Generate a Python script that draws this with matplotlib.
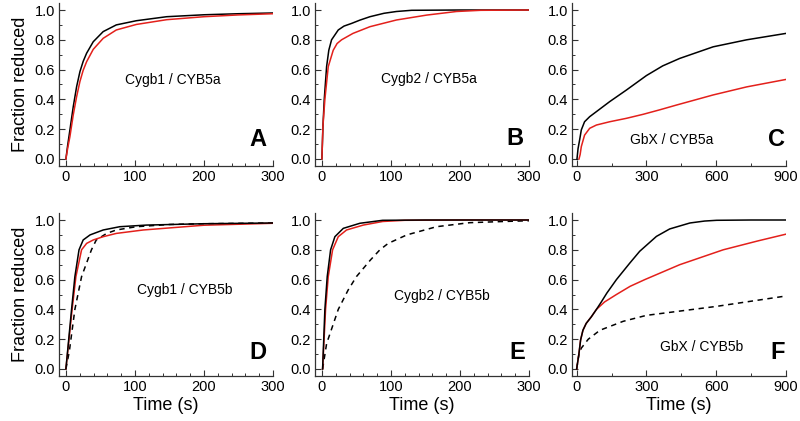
import matplotlib.pyplot as plt
from matplotlib.ticker import MultipleLocator

plt.rcParams['font.family'] = ['Liberation Sans', 'DejaVu Sans']

# --- panel A: Cygb1 / CYB5a ---
a_t = [0, 2.5, 5.8, 10.6, 15.5, 20.3, 25, 30, 39.6, 54, 73, 102, 146, 200, 250, 300]
a_black = [0, 0.09, 0.195, 0.35, 0.485, 0.586, 0.655, 0.71, 0.787, 0.855, 0.90, 0.928, 0.955, 0.968, 0.975, 0.98]
a_red = [0, 0.07, 0.15, 0.295, 0.418, 0.52, 0.595, 0.653, 0.736, 0.81, 0.866, 0.903, 0.935, 0.955, 0.967, 0.975]

# --- panel B: Cygb2 / CYB5a ---
b_t_black = [0, 1.5, 3.4, 6.8, 10, 14, 23.7, 32, 43, 55, 69.6, 90, 108, 130, 200, 300]
b_black = [0, 0.22, 0.40, 0.62, 0.73, 0.80, 0.866, 0.892, 0.91, 0.932, 0.955, 0.978, 0.99, 0.998, 1.0, 1.0]
b_t_red = [0, 1.5, 4.3, 9.2, 16.4, 22, 28.5, 45, 69.6, 108, 152, 195, 230, 300]
b_red = [0, 0.22, 0.40, 0.62, 0.73, 0.775, 0.80, 0.843, 0.888, 0.933, 0.966, 0.99, 0.998, 1.0]

# --- panel C: GbX / CYB5a ---
c_t_black = [1.4, 6, 13, 20, 34, 56, 85, 142, 214, 300, 370, 443, 587, 731, 900]
c_black = [0, 0.07, 0.13, 0.195, 0.25, 0.284, 0.318, 0.385, 0.463, 0.56, 0.625, 0.675, 0.753, 0.80, 0.843]
c_t_red = [10, 15, 20, 34, 56, 85, 142, 214, 286, 357, 429, 587, 731, 900]
c_red = [0, 0.03, 0.083, 0.16, 0.206, 0.228, 0.25, 0.273, 0.30, 0.33, 0.362, 0.43, 0.484, 0.534]

# --- panel D: Cygb1 / CYB5b ---
d_t_black = [0, 8.2, 13, 19, 25, 35, 54, 78, 117, 200, 300]
d_black = [0, 0.40, 0.62, 0.80, 0.866, 0.90, 0.933, 0.955, 0.966, 0.975, 0.98]
d_t_red = [0, 9, 14.5, 22.7, 30, 39.6, 54, 73, 112, 200, 300]
d_red = [0, 0.40, 0.62, 0.80, 0.843, 0.866, 0.888, 0.91, 0.933, 0.965, 0.978]
d_t_dash = [0, 5, 13, 22.7, 37, 44, 59, 73, 102, 150, 200, 300]
d_dash = [0, 0.12, 0.40, 0.62, 0.80, 0.866, 0.91, 0.933, 0.955, 0.97, 0.975, 0.98]

# --- panel E: Cygb2 / CYB5b ---
e_t_black = [1, 4.3, 7.7, 12.6, 18.8, 31, 55, 88, 150, 300]
e_black = [0, 0.40, 0.62, 0.80, 0.888, 0.944, 0.978, 0.998, 1.0, 1.0]
e_t_red = [1, 5.3, 9.2, 15.5, 23.7, 35.7, 60, 88, 120, 200, 300]
e_red = [0, 0.40, 0.62, 0.80, 0.888, 0.933, 0.966, 0.99, 0.998, 1.0, 1.0]
e_t_dash = [1, 6.8, 23.7, 38, 50, 70, 84, 96, 123, 166, 214, 263, 300]
e_dash = [0, 0.17, 0.40, 0.53, 0.62, 0.73, 0.80, 0.843, 0.90, 0.955, 0.982, 0.99, 0.995]

# --- panel F: GbX / CYB5b ---
f_t_black = [0, 10, 17, 27, 41, 63, 85, 106, 130, 171, 228, 271, 343, 400, 487, 550, 602, 750, 900]
f_black = [0, 0.105, 0.195, 0.26, 0.306, 0.35, 0.40, 0.45, 0.51, 0.60, 0.71, 0.79, 0.89, 0.94, 0.98, 0.993, 0.998, 1.0, 1.0]
f_t_red = [0, 10, 17, 27, 41, 63, 85, 120, 171, 230, 293, 443, 630, 780, 900]
f_red = [0, 0.105, 0.195, 0.26, 0.306, 0.35, 0.40, 0.45, 0.50, 0.555, 0.60, 0.70, 0.80, 0.86, 0.905]
f_t_dash = [0, 10, 20, 50, 100, 200, 300, 450, 600, 750, 900]
f_dash = [0, 0.10, 0.14, 0.20, 0.26, 0.32, 0.36, 0.39, 0.42, 0.455, 0.49]

panel_labels = ['Cygb1 / CYB5a', 'Cygb2 / CYB5a', 'GbX / CYB5a',
                'Cygb1 / CYB5b', 'Cygb2 / CYB5b', 'GbX / CYB5b']
panel_letters = ['A', 'B', 'C', 'D', 'E', 'F']

RED = '#e3201b'

panels = [
    [(a_t, a_black, 'k', '-'), (a_t, a_red, RED, '-')],
    [(b_t_black, b_black, 'k', '-'), (b_t_red, b_red, RED, '-')],
    [(c_t_black, c_black, 'k', '-'), (c_t_red, c_red, RED, '-')],
    [(d_t_dash, d_dash, 'k', '--'), (d_t_red, d_red, RED, '-'), (d_t_black, d_black, 'k', '-')],
    [(e_t_dash, e_dash, 'k', '--'), (e_t_red, e_red, RED, '-'), (e_t_black, e_black, 'k', '-')],
    [(f_t_dash, f_dash, 'k', '--'), (f_t_red, f_red, RED, '-'), (f_t_black, f_black, 'k', '-')],
]

# label positions in data coords (text, letter)
text_pos = [(155, 0.53), (155, 0.54), (409, 0.13), (172, 0.53), (174, 0.49), (538, 0.15)]
letter_pos = [(278, 0.13), (280, 0.14), (861, 0.13), (278, 0.11), (283, 0.11), (866, 0.11)]

fig = plt.figure(figsize=(8, 4.21), dpi=100)
lefts = [59, 315, 572]
rights = [273, 529, 786]
tops = [3, 213]
bottoms = [166, 376]
W, H = 800, 421

for i in range(6):
    r, c = divmod(i, 3)
    ax = fig.add_axes([lefts[c] / W, 1 - bottoms[r] / H,
                       (rights[c] - lefts[c]) / W, (bottoms[r] - tops[r]) / H])
    for t, y, col, ls in panels[i]:
        if ls == '--':
            ax.plot(t, y, color=col, lw=1.1, linestyle=(0, (3.5, 3)))
        else:
            ax.plot(t, y, color=col, lw=1.1)
    if c == 2:
        ax.set_xlim(-20, 900)
        ax.xaxis.set_major_locator(MultipleLocator(300))
        ax.xaxis.set_minor_locator(MultipleLocator(150))
    else:
        ax.set_xlim(-10, 300)
        ax.xaxis.set_major_locator(MultipleLocator(100))
        ax.xaxis.set_minor_locator(MultipleLocator(20))
    ax.set_ylim(-0.047, 1.047)
    ax.yaxis.set_major_locator(MultipleLocator(0.2))
    ax.yaxis.set_minor_locator(MultipleLocator(0.1))
    ax.spines['top'].set_visible(False)
    ax.spines['right'].set_visible(False)
    for s in ['left', 'bottom']:
        ax.spines[s].set_linewidth(0.9)
        ax.spines[s].set_color('#333333')
    ax.tick_params(which='major', direction='in', length=4, width=0.8,
                   labelsize=10.5, pad=3, colors='#333333', labelcolor='black')
    ax.tick_params(which='minor', direction='in', length=2, width=0.7, colors='#333333')
    ax.set_yticks([0, 0.2, 0.4, 0.6, 0.8, 1.0])
    ax.set_yticklabels(['0.0', '0.2', '0.4', '0.6', '0.8', '1.0'])
    tx, ty = text_pos[i]
    ax.text(tx, ty, panel_labels[i], ha='center', va='center', fontsize=10)
    lx, ly = letter_pos[i]
    ax.text(lx, ly, panel_letters[i], ha='center', va='center',
            fontsize=17, fontweight='bold')
    if c == 0:
        ax.set_ylabel('Fraction reduced', fontsize=13, labelpad=4)
    if r == 1:
        ax.set_xlabel('Time (s)', fontsize=13, labelpad=2)

fig.savefig('out.png', dpi=100)
